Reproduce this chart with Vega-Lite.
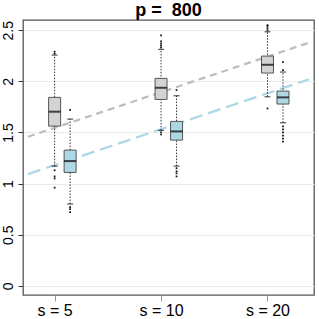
{
  "$schema": "https://vega.github.io/schema/vega-lite/v6.json",
  "autosize": {"type": "none"},
  "width": 291,
  "height": 275,
  "padding": {"left": 23, "top": 20, "right": 5, "bottom": 24},
  "background": "white",
  "config": {
    "font": "Liberation Sans",
    "view": {"stroke": "#555", "strokeWidth": 1.3}
  },
  "title": {"text": "p =\u00a0 800", "fontSize": 18, "fontWeight": "bold", "color": "black", "anchor": "middle", "frame": "group", "offset": 0, "baseline": "bottom", "dy": 18, "font": "Liberation Sans"},
  "datasets": {
    "boxes": [
      {"k": 1, "g": "a", "lo": 1.17, "q1": 1.562, "med": 1.703, "q3": 1.843, "hi": 2.257},
      {"k": 1, "g": "b", "lo": 0.80, "q1": 1.109, "med": 1.22, "q3": 1.327, "hi": 1.631},
      {"k": 2, "g": "a", "lo": 1.52, "q1": 1.823, "med": 1.937, "q3": 2.029, "hi": 2.312},
      {"k": 2, "g": "b", "lo": 1.171, "q1": 1.425, "med": 1.51, "q3": 1.608, "hi": 1.859},
      {"k": 3, "g": "a", "lo": 1.849, "q1": 2.081, "med": 2.162, "q3": 2.247, "hi": 2.485},
      {"k": 3, "g": "b", "lo": 1.595, "q1": 1.778, "med": 1.843, "q3": 1.905, "hi": 2.091}
    ],
    "outliers": [
      {"k": 1, "g": "a", "v": 2.27}, {"k": 1, "g": "a", "v": 2.29},
      {"k": 1, "g": "a", "v": 1.13}, {"k": 1, "g": "a", "v": 1.07}, {"k": 1, "g": "a", "v": 1.05}, {"k": 1, "g": "a", "v": 0.96},
      {"k": 1, "g": "b", "v": 1.72}, {"k": 1, "g": "b", "v": 0.77}, {"k": 1, "g": "b", "v": 0.75}, {"k": 1, "g": "b", "v": 0.72},
      {"k": 2, "g": "a", "v": 2.33}, {"k": 2, "g": "a", "v": 2.35}, {"k": 2, "g": "a", "v": 2.37}, {"k": 2, "g": "a", "v": 2.39}, {"k": 2, "g": "a", "v": 2.45},
      {"k": 2, "g": "a", "v": 1.50}, {"k": 2, "g": "a", "v": 1.48},
      {"k": 2, "g": "b", "v": 1.915}, {"k": 2, "g": "b", "v": 1.15}, {"k": 2, "g": "b", "v": 1.12}, {"k": 2, "g": "b", "v": 1.10}, {"k": 2, "g": "b", "v": 1.07},
      {"k": 3, "g": "a", "v": 2.50}, {"k": 3, "g": "a", "v": 2.52}, {"k": 3, "g": "a", "v": 2.54}, {"k": 3, "g": "a", "v": 2.55}, {"k": 3, "g": "a", "v": 1.735},
      {"k": 3, "g": "b", "v": 2.188}, {"k": 3, "g": "b", "v": 2.11}, {"k": 3, "g": "b", "v": 1.56}, {"k": 3, "g": "b", "v": 1.53}, {"k": 3, "g": "b", "v": 1.50}, {"k": 3, "g": "b", "v": 1.47}, {"k": 3, "g": "b", "v": 1.44}, {"k": 3, "g": "b", "v": 1.41}
    ],
    "lines": [
      {"g": "a", "x": 0.75, "y": 1.458}, {"g": "a", "x": 3.39, "y": 2.378},
      {"g": "b", "x": 0.75, "y": 1.093}, {"g": "b", "x": 3.39, "y": 2.02}
    ]
  },
  "layer": [
    {
      "data": {"name": "lines"},
      "mark": {"type": "line", "strokeWidth": 2.3, "clip": true},
      "encoding": {
        "x": {"field": "x", "type": "quantitative",
          "scale": {"domain": [0.75, 3.39], "nice": false, "zero": false},
          "axis": {"values": [1, 2, 3], "labelExpr": "datum.value == 1 ? 's = 5' : datum.value == 2 ? 's = 10' : 's = 20'", "title": null, "grid": false, "domain": false, "ticks": true, "tickColor": "#999", "tickSize": 6, "labelFontSize": 16, "labelColor": "black", "labelPadding": 1, "labelFont": "Liberation Sans"}},
        "y": {"field": "y", "type": "quantitative",
          "scale": {"domain": [-0.09, 2.6], "nice": false, "zero": false},
          "axis": {"values": [0, 0.25, 0.5, 0.75, 1, 1.25, 1.5, 1.75, 2, 2.25, 2.5],
            "labelExpr": "datum.value % 0.5 == 0 ? '' + datum.value : ''",
            "tickOpacity": {"condition": {"test": "datum.value % 0.5 != 0", "value": 0}, "value": 1},
            "title": null, "grid": true, "gridColor": "#EBEBEB", "gridWidth": 1, "domain": false,
            "tickColor": "#333", "tickSize": 5, "labelAngle": -90, "labelAlign": "center", "labelBaseline": "bottom",
            "labelFontSize": 14, "labelColor": "black", "labelPadding": 3, "labelFont": "Liberation Sans"}},
        "color": {"field": "g", "type": "nominal", "scale": {"domain": ["a", "b"], "range": ["#BEBEBE", "#ADD8E6"]}, "legend": null},
        "strokeDash": {"field": "g", "type": "nominal", "scale": {"domain": ["a", "b"], "range": [[7, 5], [13, 6]]}, "legend": null}
      }
    },
    {
      "data": {"name": "boxes"},
      "transform": [{"filter": "datum.g == 'a'"}],
      "layer": [
        {"mark": {"type": "rule", "strokeDash": [1.5, 1.5], "color": "#333", "strokeWidth": 1},
         "encoding": {"x": {"field": "k", "type": "quantitative"}, "y": {"field": "lo", "type": "quantitative"}, "y2": {"field": "hi"}}},
        {"mark": {"type": "tick", "orient": "horizontal", "size": 6, "thickness": 1.2, "color": "#111"},
         "encoding": {"x": {"field": "k", "type": "quantitative"}, "y": {"field": "hi", "type": "quantitative"}}},
        {"mark": {"type": "tick", "orient": "horizontal", "size": 6, "thickness": 1.2, "color": "#111"},
         "encoding": {"x": {"field": "k", "type": "quantitative"}, "y": {"field": "lo", "type": "quantitative"}}},
        {"mark": {"type": "bar", "size": 12, "stroke": "#555", "strokeWidth": 1, "fill": "#D3D3D3"},
         "encoding": {"x": {"field": "k", "type": "quantitative"}, "y": {"field": "q1", "type": "quantitative"}, "y2": {"field": "q3"}}},
        {"mark": {"type": "tick", "orient": "horizontal", "size": 12, "thickness": 2, "color": "black"},
         "encoding": {"x": {"field": "k", "type": "quantitative"}, "y": {"field": "med", "type": "quantitative"}}}
      ]
    },
    {
      "data": {"name": "boxes"},
      "transform": [{"filter": "datum.g == 'b'"}],
      "layer": [
        {"mark": {"type": "rule", "strokeDash": [1.5, 1.5], "color": "#333", "strokeWidth": 1, "xOffset": 15.5},
         "encoding": {"x": {"field": "k", "type": "quantitative"}, "y": {"field": "lo", "type": "quantitative"}, "y2": {"field": "hi"}}},
        {"mark": {"type": "tick", "orient": "horizontal", "size": 6, "thickness": 1.2, "color": "#111", "xOffset": 15.5},
         "encoding": {"x": {"field": "k", "type": "quantitative"}, "y": {"field": "hi", "type": "quantitative"}}},
        {"mark": {"type": "tick", "orient": "horizontal", "size": 6, "thickness": 1.2, "color": "#111", "xOffset": 15.5},
         "encoding": {"x": {"field": "k", "type": "quantitative"}, "y": {"field": "lo", "type": "quantitative"}}},
        {"mark": {"type": "bar", "size": 12, "stroke": "#555", "strokeWidth": 1, "fill": "#ADD8E6", "xOffset": 15.5},
         "encoding": {"x": {"field": "k", "type": "quantitative"}, "y": {"field": "q1", "type": "quantitative"}, "y2": {"field": "q3"}}},
        {"mark": {"type": "tick", "orient": "horizontal", "size": 12, "thickness": 2, "color": "black", "xOffset": 15.5},
         "encoding": {"x": {"field": "k", "type": "quantitative"}, "y": {"field": "med", "type": "quantitative"}}}
      ]
    },
    {
      "data": {"name": "outliers"},
      "transform": [{"filter": "datum.g == 'a'"}],
      "mark": {"type": "point", "shape": "square", "size": 3, "filled": true, "color": "#111", "opacity": 1},
      "encoding": {"x": {"field": "k", "type": "quantitative"}, "y": {"field": "v", "type": "quantitative"}}
    },
    {
      "data": {"name": "outliers"},
      "transform": [{"filter": "datum.g == 'b'"}],
      "mark": {"type": "point", "shape": "square", "size": 3, "filled": true, "color": "#111", "opacity": 1, "xOffset": 15.5},
      "encoding": {"x": {"field": "k", "type": "quantitative"}, "y": {"field": "v", "type": "quantitative"}}
    }
  ]
}
